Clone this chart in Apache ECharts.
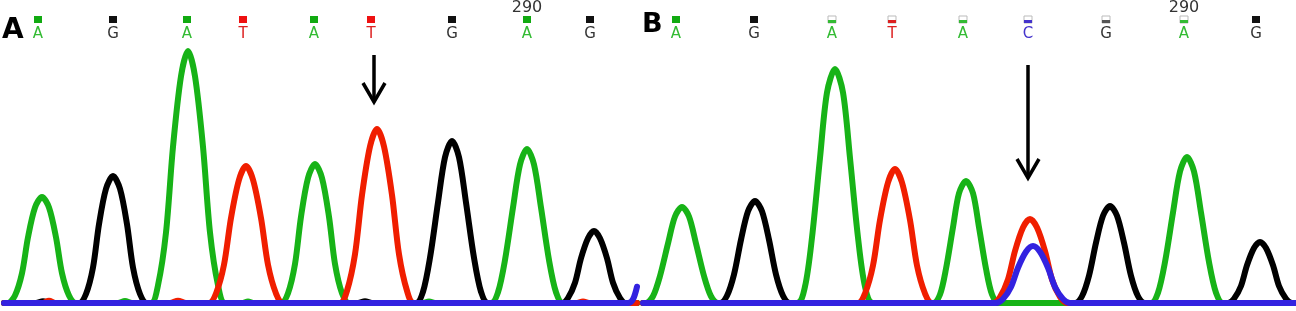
<!DOCTYPE html>
<html>
<head>
<meta charset="utf-8">
<script src="https://cdn.jsdelivr.net/npm/echarts@6/dist/echarts.min.js"></script>
<style>html,body{margin:0;padding:0;background:#fff}#chart{width:1296px;height:311px}</style>
</head>
<body>
<div id="chart"></div>
<script>
// ---- Panel A traces (scan position, intensity) ----
const traceA_A = [[4,0],
  [8,0],[15,30],[22,119],[28,263],[35,382],[42,424],[49,382],[56,263],[62,119],[69,30],[76,0],
  [118,0],[125,8],[132,0],
  [151,0],[158,71],[166,282],[173,625],[181,907],[188,1008],[195,907],[203,625],[210,282],[218,71],[225,0],
  [242,0],[248,6],[254,0],
  [281,0],[288,39],[295,156],[301,345],[308,500],[315,556],[322,500],[329,345],[335,156],[342,39],[349,0],
  [422,0],[429,6],[436,0],
  [491,0],[498,43],[505,172],[513,382],[520,554],[527,616],[534,554],[541,382],[549,172],[556,43],[563,0],[637,0]];
const traceA_C = [[4,0],[628,0],[633,15],[637,65]];
const traceA_G = [[4,0],[36,0],[43,7],[50,0],
  [79,0],[86,36],[93,142],[99,315],[106,457],[113,508],[120,457],[127,315],[133,142],[140,36],[147,0],
  [358,0],[365,7],[372,0],
  [416,0],[423,45],[430,181],[438,402],[445,583],[452,648],[459,583],[466,402],[474,181],[481,45],[488,0],
  [562,0],[568,20],[575,81],[581,179],[588,259],[594,288],[600,259],[607,179],[613,81],[620,20],[626,0],[637,0]];
const traceA_T = [[4,0],[42,0],[49,9],[56,0],[170,0],[178,9],[186,0],
  [209,0],[216,38],[224,153],[231,340],[239,493],[246,548],[253,493],[261,340],[268,153],[276,38],[283,0],
  [340,0],[347,49],[355,195],[362,432],[370,626],[377,696],[384,626],[392,432],[399,195],[407,49],[414,0],
  [576,0],[583,6],[590,0],[637,0]];

// ---- Panel B traces ----
const traceB_A = [[3,0],
  [6,0],[13,27],[20,108],[28,238],[35,346],[42,384],[49,346],[56,238],[64,108],[71,27],[78,0],
  [157,0],[165,66],[172,262],[180,580],[187,842],[195,936],[203,842],[210,580],[218,262],[225,66],[233,0],
  [293,0],[300,34],[306,137],[313,303],[319,439],[326,488],[333,439],[339,303],[346,137],[352,34],[359,0],
  [511,0],[518,41],[525,164],[533,362],[540,526],[547,584],[554,526],[561,362],[569,164],[576,41],[583,0],[656,0]];
const traceB_C = [[3,0],
  [356,0],[363,16],[371,64],[378,141],[386,205],[393,228],[400,205],[408,141],[415,64],[423,16],[430,0],[656,0]];
const traceB_G = [[3,0],
  [80,0],[87,29],[94,114],[101,253],[108,367],[115,408],[122,367],[129,253],[136,114],[143,29],[150,0],
  [435,0],[442,27],[449,109],[456,241],[463,349],[470,388],[477,349],[484,241],[491,109],[498,27],[505,0],
  [588,0],[594,17],[601,68],[607,151],[614,220],[620,244],[626,220],[633,151],[639,68],[646,17],[652,0],[656,0]];
const traceB_T = [[3,0],
  [218,0],[225,38],[233,150],[240,332],[248,482],[255,536],[262,482],[270,332],[277,150],[285,38],[292,0],
  [353,0],[360,24],[368,94],[375,208],[383,302],[390,336],[397,302],[405,208],[412,94],[420,24],[427,0],[656,0]];

// ---- Base calls ----
const callPosA = [38, 113, 187, 243, 314, 371, 452, 527, 590];
const callA    = ['A','G','A','T','A','T','G','A','G'];
const qualA    = [1,1,1,1,1,1,1,1,1];
const callPosB = [36, 114, 192, 252, 323, 388, 466, 544, 616];
const callB    = ['A','G','A','T','A','C','G','A','G'];
const qualB    = [1,1,0,0,0,0,0,0,1];
// ruler tick label
const rulerPosA = [527], rulerPosB = [544], rulerLabels = ['290'];
// arrows: [x, start intensity, tip intensity]
const arrowA = [[374, 992, 804]];
const arrowB = [[388, 952, 500]];

const COL = {A:'#17b317', C:'#3322e0', G:'#000000', T:'#f01e00'};
const LETTER_COL = {A:'#33bb33', C:'#4433cc', G:'#333333', T:'#dd2020'};
const FONT = '"DejaVu Sans", sans-serif';

function traceSeries(data, base, gi) {
  return {type:'line', data:data, xAxisIndex:gi, yAxisIndex:gi, smooth:0.3, symbol:'none', clip:false,
    lineStyle:{color:COL[base], width:6, cap:'round', join:'round'}, z: {G:2,A:3,T:4,C:5}[base]};
}
function callsSeries(pos, letters, qual, gi) {
  return {type:'custom', xAxisIndex:gi, yAxisIndex:gi, data:pos.map(p=>[p,0]), encode:{x:0,y:1}, z:10,
    renderItem:function(params, api){
      const i = params.dataIndex, L = letters[i];
      const px = Math.round(api.coord([api.value(0),0])[0]);
      const kids = [];
      if (qual[i]) {
        kids.push({type:'rect', shape:{x:px-4,y:16,width:8,height:7}, style:{fill: L==='A'?'#11aa11':(L==='T'?'#ee1111':(L==='C'?'#3322dd':'#111'))}});
      } else {
        kids.push({type:'rect', shape:{x:px-4,y:16,width:8,height:7}, style:{fill:'#fff', stroke:'#bbbbbb', lineWidth:1}});
        kids.push({type:'rect', shape:{x:px-4,y:20,width:8,height:3}, style:{fill: L==='G'?'#555':LETTER_COL[L]}});
      }
      kids.push({type:'text', style:{text:L, x:px, y:34, align:'center', verticalAlign:'middle', fill:LETTER_COL[L], font:'15px '+FONT}});
      return {type:'group', children:kids};
    }};
}
function rulerSeries(pos, gi) {
  return {type:'custom', xAxisIndex:gi, yAxisIndex:gi, data:pos.map(p=>[p,0]), encode:{x:0,y:1}, z:10,
    renderItem:function(params, api){
      const px = api.coord([api.value(0),0])[0];
      return {type:'text', style:{text:rulerLabels[params.dataIndex], x:px, y:8, align:'center', verticalAlign:'middle', fill:'#333', font:'16px '+FONT}};
    }};
}
function arrowSeries(arr, gi) {
  return {type:'custom', xAxisIndex:gi, yAxisIndex:gi, data:arr, encode:{x:0,y:[1,2]}, z:12, clip:false,
    renderItem:function(params, api){
      const a = api.coord([api.value(0), api.value(1)]);
      const b = api.coord([api.value(0), api.value(2)]);
      return {type:'group', children:[
        {type:'line', shape:{x1:a[0],y1:a[1],x2:b[0],y2:b[1]-2}, style:{stroke:'#000', lineWidth:3.5}},
        {type:'polyline', shape:{points:[[b[0]-11,b[1]-19],[b[0],b[1]],[b[0]+11,b[1]-19]]}, style:{stroke:'#000', lineWidth:3.5, fill:null, lineJoin:'miter'}}
      ]};
    }};
}

const chart = echarts.init(document.getElementById('chart'), null, {renderer:'canvas'});
chart.setOption({
  animation:false,
  backgroundColor:'#fff',
  grid:[{left:0, width:637, top:3, bottom:8}, {left:640, right:0, top:3, bottom:8}],
  xAxis:[{type:'value', gridIndex:0, min:0, max:637, show:false}, {type:'value', gridIndex:1, min:0, max:656, show:false}],
  yAxis:[{type:'value', gridIndex:0, min:0, max:1200, show:false}, {type:'value', gridIndex:1, min:0, max:1200, show:false}],
  graphic:[
    {type:'text', left:2, top:17, style:{text:'A', fill:'#000', font:'bold 28px "DejaVu Sans", sans-serif'}},
    {type:'text', left:642, top:11, style:{text:'B', fill:'#000', font:'bold 27px "DejaVu Sans", sans-serif'}}
  ],
  series:[
    traceSeries(traceA_A,'A',0), traceSeries(traceA_G,'G',0), traceSeries(traceA_T,'T',0), traceSeries(traceA_C,'C',0),
    traceSeries(traceB_A,'A',1), traceSeries(traceB_G,'G',1), traceSeries(traceB_T,'T',1), traceSeries(traceB_C,'C',1),
    callsSeries(callPosA, callA, qualA, 0), callsSeries(callPosB, callB, qualB, 1),
    rulerSeries(rulerPosA, 0), rulerSeries(rulerPosB, 1),
    arrowSeries(arrowA, 0), arrowSeries(arrowB, 1)
  ]
});
</script>
</body>
</html>
